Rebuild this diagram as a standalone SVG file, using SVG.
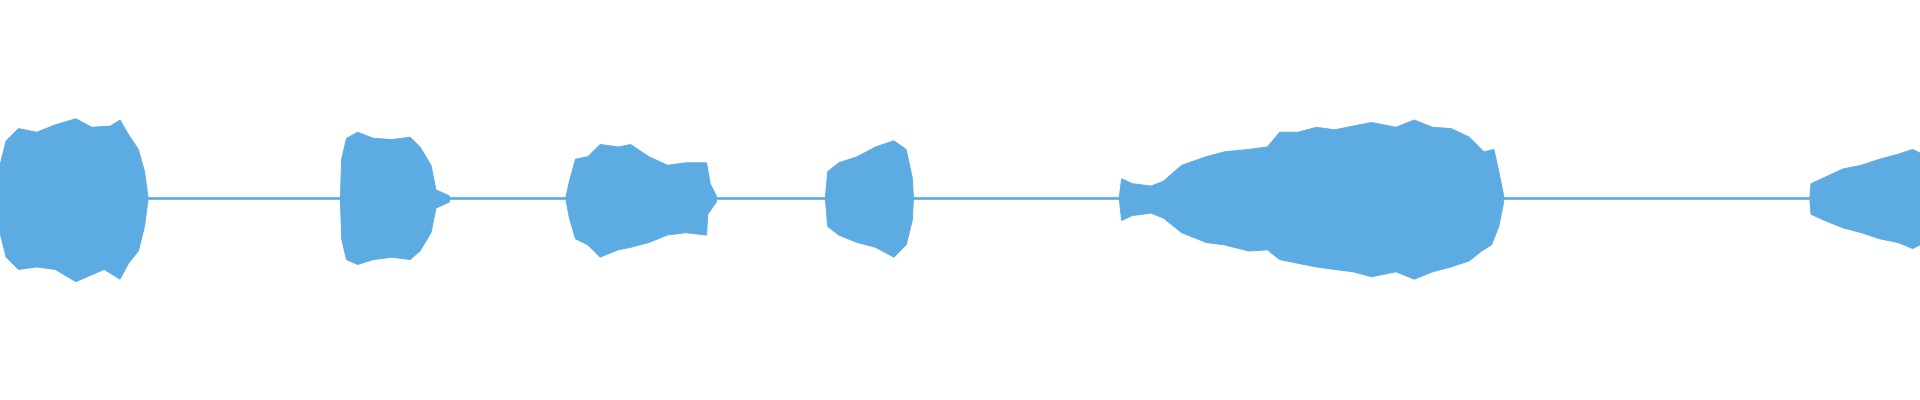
<svg xmlns="http://www.w3.org/2000/svg" width="1920" height="400" viewBox="0 0 1920 400">
<style>.w{fill:#5dabe3;stroke:#5dabe3;stroke-width:0.8;stroke-linejoin:round}</style>
<rect width="1920" height="400" fill="#ffffff"/>
<g transform="scale(1.2245)">
<rect x="0" y="161" width="1568" height="2.2" fill="#5dabe3"/>
<path class="w" d="M0,162 L0,135 L5,115 L15,105 L30,108 L45,102 L62,97 L75,104 L90,103 L98,98 L105,110 L113,122 L118,140 L121,162 L118,185 L113,205 L105,215 L98,228 L85,220 L62,230 L45,220 L30,218 L15,220 L5,210 L0,190 Z"/>
<path class="w" d="M278,162 L279,130 L283,113 L292,108 L305,113 L320,114 L335,112 L343,120 L352,135 L356,155 L367,160 L367,165 L356,170 L352,190 L343,205 L335,212 L320,210 L305,212 L292,216 L283,212 L279,195 Z"/>
<path class="w" d="M462,162 L465,148 L470,130 L480,128 L490,118 L505,120 L515,118 L530,128 L545,135 L560,133 L577,133 L580,150 L585,160 L585,165 L578,175 L577,192 L560,190 L545,192 L530,198 L515,202 L505,204 L490,210 L480,200 L470,195 L465,178 Z"/>
<path class="w" d="M674,162 L676,140 L685,133 L700,128 L715,120 L730,115 L740,122 L745,145 L746,162 L745,180 L740,200 L730,210 L715,202 L700,198 L685,192 L676,185 Z"/>
<path class="w" d="M914,162 L916,146 L925,150 L940,152 L950,148 L965,135 L985,128 L1000,124 L1020,122 L1035,120 L1045,108 L1060,108 L1075,104 L1090,106 L1105,103 L1120,100 L1140,104 L1155,98 L1170,104 L1185,105 L1200,112 L1212,124 L1220,122 L1224,140 L1228,160 L1228,165 L1224,185 L1218,200 L1210,205 L1200,213 L1185,218 L1170,222 L1155,228 L1140,222 L1120,226 L1105,222 L1090,220 L1075,218 L1060,215 L1045,212 L1035,204 L1020,205 L1000,200 L985,198 L965,190 L950,178 L940,174 L925,176 L916,180 Z"/>
<path class="w" d="M1478,162 L1479,150 L1490,145 L1505,138 L1520,135 L1535,130 L1550,126 L1562,122 L1568,125 L1568,200 L1562,203 L1550,198 L1535,195 L1520,190 L1505,186 L1490,180 L1479,175 Z"/>
</g>
</svg>
